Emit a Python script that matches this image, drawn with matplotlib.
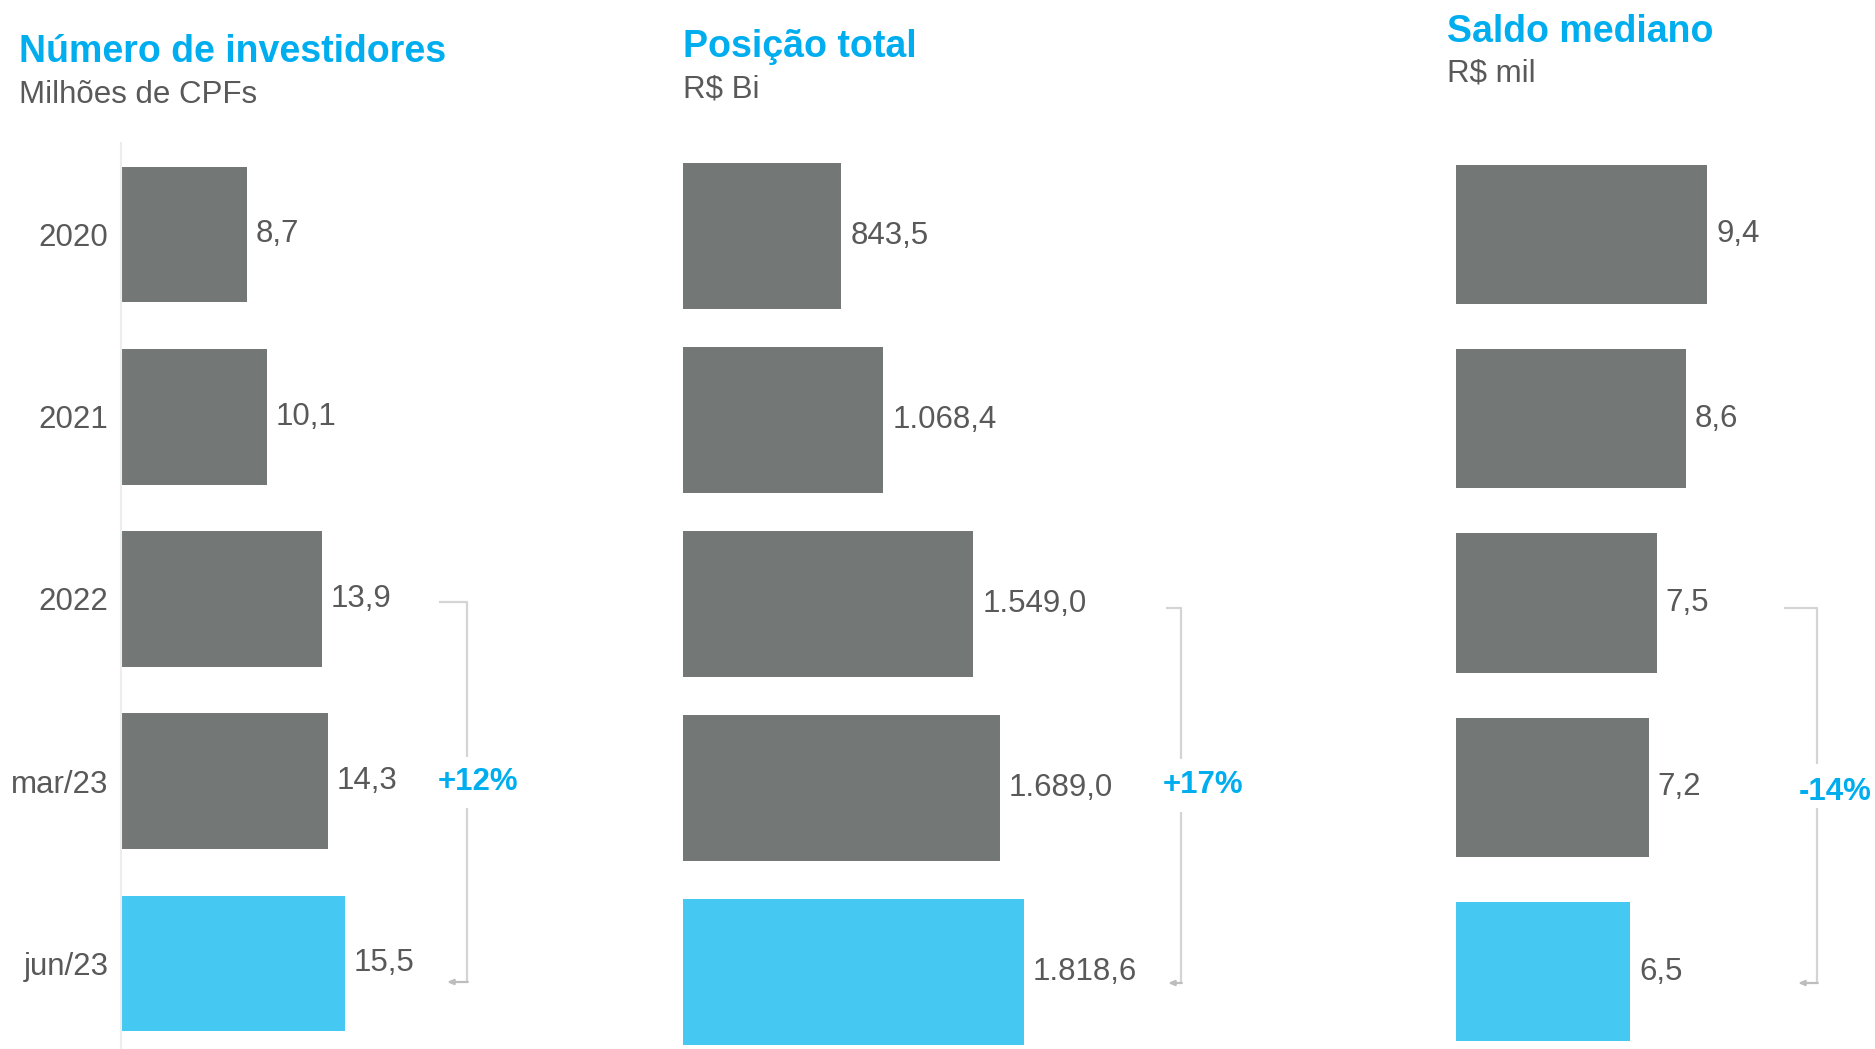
import matplotlib
matplotlib.use("Agg")
import matplotlib.pyplot as plt
import numpy as np

plt.rcParams['font.family'] = ['Liberation Sans', 'DejaVu Sans']

# ---------------- data ----------------
categories = ["2020", "2021", "2022", "mar/23", "jun/23"]
investidores = [8.7, 10.1, 13.9, 14.3, 15.5]
posicao_total = [843.5, 1068.4, 1549.0, 1689.0, 1818.6]
saldo_mediano = [9.4, 8.6, 7.5, 7.2, 6.5]

titles = ["Número de investidores", "Posição total", "Saldo mediano"]
subtitles = ["Milhões de CPFs", "R$ Bi", "R$ mil"]
variations = ["+12%", "+17%", "-14%"]

# ---------------- styles ----------------
GRAY = "#737877"
BLUE = "#45C8F2"
TITLE_BLUE = "#00AEEF"
TEXT = "#595959"
BRACKET = "#D4D4D4"
bar_colors = [GRAY, GRAY, GRAY, GRAY, BLUE]

W, H = 1875, 1049
fig = plt.figure(figsize=(W / 100, H / 100), dpi=100)


def px_axes(left, top, width, height):
    return fig.add_axes([left / W, 1 - (top + height) / H, width / W, height / H])


def br_fmt(v):
    s = f"{v:,.1f}"
    return s.replace(",", "X").replace(".", ",").replace("X", ".")


# layout of panels (pixel units)
panels = [
    dict(values=investidores, left=121, scale=14.45, c0=234.5, step=182.25, bar_h=0.745,
         width=330, show_cats=True,
         title_xy=(19, 62), sub_xy=(19, 103)),
    dict(values=posicao_total, left=683, scale=0.1875, c0=236.0, step=184.0, bar_h=0.79,
         width=420, show_cats=False,
         title_xy=(683, 57), sub_xy=(683, 97)),
    dict(values=saldo_mediano, left=1456, scale=26.75, c0=234.5, step=184.25, bar_h=0.755,
         width=330, show_cats=False,
         title_xy=(1447, 42), sub_xy=(1447, 82)),
]

TOP, BOT = 143, 1049
ypos = np.arange(len(categories))

for i, p in enumerate(panels):
    ax = px_axes(p["left"], TOP, p["width"], BOT - TOP)
    ax.set_xlim(0, p["width"] / p["scale"])
    ax.set_ylim((BOT - p["c0"]) / p["step"], (TOP - p["c0"]) / p["step"])
    bars = ax.barh(ypos, p["values"], height=p["bar_h"], color=bar_colors, linewidth=0)
    ax.bar_label(bars, labels=[br_fmt(v) for v in p["values"]], padding=6.5,
                 fontsize=22.5, color=TEXT)
    for s in ["top", "right", "bottom"]:
        ax.spines[s].set_visible(False)
    ax.set_xticks([])
    if p["show_cats"]:
        ax.spines["left"].set_color("#EDEDED")
        ax.spines["left"].set_linewidth(1.5)
        ax.set_yticks(ypos)
        ax.set_yticklabels(categories, fontsize=22.5, color=TEXT)
        ax.tick_params(axis="y", length=0, pad=9)
    else:
        ax.spines["left"].set_visible(False)
        ax.set_yticks([])
    ax.patch.set_alpha(0)

    tx, ty = p["title_xy"]
    fig.text(tx / W, 1 - ty / H, titles[i], fontsize=27, fontweight="bold",
             color=TITLE_BLUE, ha="left", va="baseline")
    sx, sy = p["sub_xy"]
    fig.text(sx / W, 1 - sy / H, subtitles[i], fontsize=22.5, color=TEXT,
             ha="left", va="baseline")

# overlay for brackets / variation labels (pixel coordinates)
ov = fig.add_axes([0, 0, 1, 1])
ov.set_xlim(0, W)
ov.set_ylim(H, 0)
ov.axis("off")
ov.patch.set_alpha(0)

brackets = [
    dict(x=467, top=602, gap=(757, 808), bot=982, x_top=439, x_bot=447, label_xy=(478, 790)),
    dict(x=1181, top=608, gap=(759, 812), bot=983, x_top=1166, x_bot=1168, label_xy=(1203, 793)),
    dict(x=1817, top=608, gap=(764, 808), bot=983, x_top=1784, x_bot=1798, label_xy=(1835, 800)),
]
for b, lab in zip(brackets, variations):
    x = b["x"]
    ov.plot([b["x_top"], x, x], [b["top"], b["top"], b["gap"][0]], color=BRACKET, lw=1.6,
            solid_capstyle="butt")
    ov.plot([x, x], [b["gap"][1], b["bot"]], color=BRACKET, lw=1.6, solid_capstyle="butt")
    ov.annotate("", xy=(b["x_bot"], b["bot"]), xytext=(x + 0.8, b["bot"]),
                arrowprops=dict(arrowstyle="-|>,head_length=0.35,head_width=0.15",
                                color="#BDBDBD", lw=1.6, shrinkA=0, shrinkB=0))
    lx, ly = b["label_xy"]
    ov.text(lx, ly, lab, fontsize=22.5, fontweight="bold", color=TITLE_BLUE,
            ha="center", va="baseline")

fig.savefig("out.png", dpi=100, facecolor="white")
